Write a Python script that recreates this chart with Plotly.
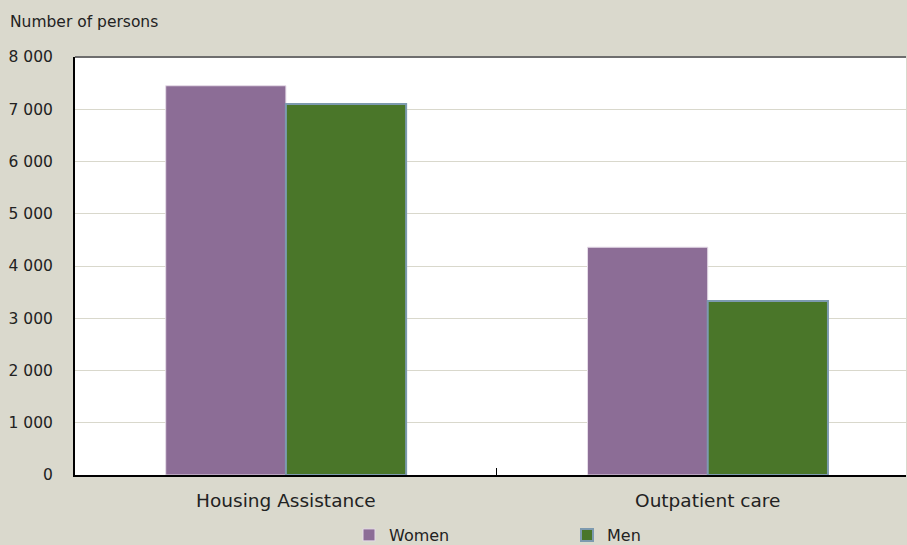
import plotly.graph_objects as go

categories = ["Housing Assistance", "Outpatient care"]
women = [7450, 4360]
men = [7100, 3330]
y_ticks = [0, 1000, 2000, 3000, 4000, 5000, 6000, 7000, 8000]

BG = "#DAD9CD"
FONT = "DejaVu Sans"

fig = go.Figure()
fig.add_trace(go.Bar(
    x=categories, y=women, name="Women",
    marker=dict(color="#8C6D96", line=dict(color="#E6DCE8", width=1)),
))
fig.add_trace(go.Bar(
    x=categories, y=men, name="Men",
    marker=dict(color="#4A7629", line=dict(color="#7D9AAF", width=2)),
))

fig.update_layout(
    width=907, height=545,
    paper_bgcolor=BG, plot_bgcolor="white",
    margin=dict(l=75, r=1, t=57, b=70),
    barmode="group", bargap=0.43, bargroupgap=0,
    separators=". ",
    font=dict(family=FONT, color="#222222", size=15),
    title=dict(text="Number of persons", font=dict(size=15.5, family=FONT, color="#222"),
               xref="container", yref="container", x=10/907, xanchor="left",
               y=1-22/545, yanchor="middle"),
    showlegend=True,
    legend=dict(orientation="h", xref="container", yref="container",
                x=349/907, xanchor="left", y=1-535/545, yanchor="middle",
                entrywidth=173, entrywidthmode="pixels",
                font=dict(size=16, family=FONT, color="#222"),
                bgcolor="rgba(0,0,0,0)", itemwidth=30, tracegroupgap=0),
)
fig.update_xaxes(
    type="category", range=[-0.5, 1.47],
    showline=True, linecolor="black", linewidth=2,
    ticks="inside", tickson="boundaries", ticklen=7, tickcolor="black", tickwidth=1,
    tickfont=dict(size=18.5, family=FONT, color="#222"),
    ticklabelstandoff=8,
    showgrid=False,
)
fig.update_yaxes(
    range=[0, 8000], tickvals=y_ticks, tickformat=",d",
    showline=True, linecolor="black", linewidth=2,
    showgrid=True, gridcolor="#D9D8CC", gridwidth=1,
    ticks="", ticklabelstandoff=17,
    tickfont=dict(size=15.5, family=FONT, color="#222"),
    zeroline=False,
)
fig.add_shape(type="line", xref="paper", yref="paper", x0=0, x1=1, y0=1, y1=1,
              line=dict(color="#6E6E6E", width=2))

fig.write_html("out.html", config={"displayModeBar": False},
               post_script="document.body.style.margin='0';document.body.style.padding='0';document.body.style.overflow='hidden';")
